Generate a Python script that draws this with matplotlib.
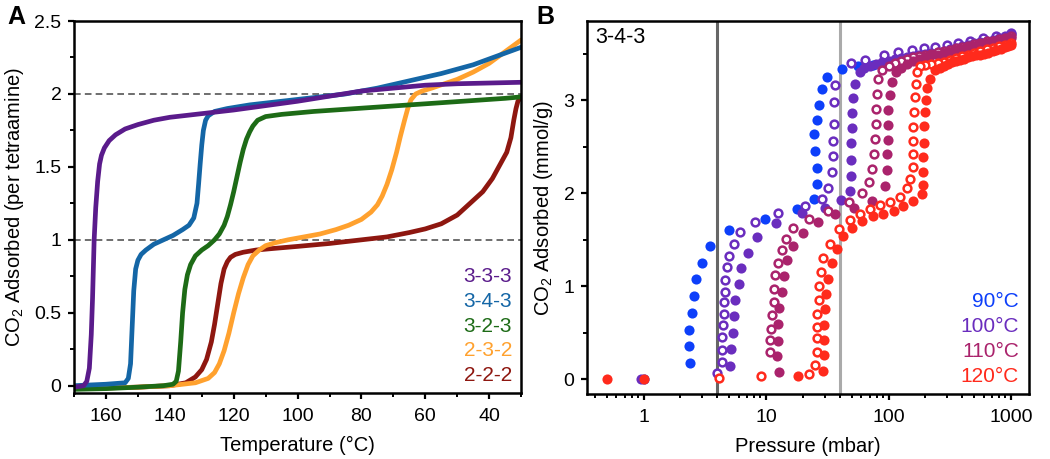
import numpy as np
import matplotlib
matplotlib.use("Agg")
from matplotlib import pyplot as plt
from matplotlib.ticker import MultipleLocator, FuncFormatter, LogLocator, NullFormatter

plt.rcParams['font.family'] = ['Liberation Sans', 'DejaVu Sans']
plt.rcParams['mathtext.default'] = 'regular'

# ---- panel A: isobars (per tetraamine) ----
t_333 = [170, 167, 166, 165.2, 164.6, 164.2, 163.7, 163.2, 162.6, 162.0, 161.4, 160.5, 159, 157, 154, 150,
         145, 140, 130, 120, 110, 100, 90, 80, 70, 60, 50, 40, 30]
q_333 = [-0.01, 0.0, 0.03, 0.12, 0.35, 0.6, 1.0, 1.22, 1.4, 1.52, 1.58, 1.63, 1.68, 1.72, 1.76, 1.79,
         1.82, 1.84, 1.865, 1.89, 1.92, 1.95, 1.985, 2.02, 2.04, 2.06, 2.07, 2.075, 2.08]

t_343 = [170, 160, 154, 153, 152.3, 151.8, 151.3, 150.7, 150, 149, 147.5, 145, 142, 139, 136, 134, 132.5,
         131.5, 131, 130.5, 130, 129.5, 128.8, 128, 126, 122, 115, 105, 95, 85, 75, 65, 55, 45, 35, 30]
q_343 = [0.0, 0.01, 0.02, 0.05, 0.15, 0.4, 0.65, 0.8, 0.86, 0.9, 0.93, 0.97, 1.0, 1.03, 1.07, 1.1, 1.15,
         1.25, 1.38, 1.52, 1.65, 1.75, 1.82, 1.85, 1.88, 1.9, 1.925, 1.95, 1.975, 2.0, 2.04, 2.09, 2.14,
         2.2, 2.28, 2.32]

t_323 = [170, 160, 150, 142, 139, 138, 137.3, 136.6, 136, 135.3, 134.5, 133.5, 132, 130, 128, 126, 124.5,
         123, 122, 121, 120, 119, 118, 117, 116, 115, 114, 112.5, 110, 105, 95, 85, 75, 65, 55, 45, 35, 30]
q_323 = [-0.025, -0.02, -0.01, 0.0, 0.01, 0.03, 0.1, 0.3, 0.5, 0.66, 0.76, 0.83, 0.89, 0.93, 0.96, 1.0,
         1.04, 1.1, 1.16, 1.24, 1.33, 1.43, 1.53, 1.62, 1.69, 1.74, 1.78, 1.82, 1.845, 1.86, 1.88, 1.895,
         1.91, 1.925, 1.94, 1.955, 1.97, 1.98]

t_232 = [170, 150, 140, 132, 128, 126, 124.5, 123, 121.5, 120, 118.5, 117, 115.5, 114, 112, 110, 107, 103,
         98, 93, 88, 84, 80, 77, 75, 73.5, 72, 70.5, 69, 67.8, 66.5, 65.5, 64.5, 63, 61, 58, 54, 50, 45,
         40, 35, 30]
q_232 = [-0.02, -0.01, 0.0, 0.02, 0.05, 0.09, 0.15, 0.24, 0.36, 0.5, 0.63, 0.74, 0.83, 0.89, 0.93, 0.96,
         0.98, 1.0, 1.02, 1.04, 1.07, 1.1, 1.14, 1.19, 1.24, 1.3, 1.38, 1.48, 1.6, 1.71, 1.82, 1.9, 1.96,
         2.0, 2.02, 2.04, 2.07, 2.1, 2.15, 2.21, 2.29, 2.37]

t_222 = [170, 150, 140, 135, 132, 130, 128.5, 127, 126, 125, 124, 123, 122, 121, 119.5, 117, 113, 108,
         100, 90, 80, 72, 65, 60, 55, 50, 45, 42, 39, 36.5, 34.5, 33.2, 32.3, 31.6, 31, 30]
q_222 = [-0.02, -0.01, 0.0, 0.02, 0.06, 0.11, 0.18, 0.3, 0.42, 0.56, 0.7, 0.8, 0.85, 0.88, 0.9, 0.915,
         0.93, 0.94, 0.955, 0.975, 1.0, 1.02, 1.05, 1.075, 1.11, 1.17, 1.27, 1.33, 1.42, 1.52, 1.6, 1.7,
         1.82, 1.9, 1.95, 1.98]

names_a = ['3-3-3', '3-4-3', '3-2-3', '2-3-2', '2-2-2']
colors_a = ['#5a1b8b', '#1466a6', '#1d6b16', '#ffa12e', '#8e1710']

# ---- panel B: 3-4-3 isotherms, filled = adsorption, open = desorption ----
p90_ads = [1.0, 2.4, 2.37, 2.37, 2.48, 2.56, 2.69, 2.99, 3.5, 4.94, 9.86, 17.8, 24.4, 25.9, 25.9, 25.2,
           24.6, 25.9, 27.1, 28.5, 31.7, 41.6, 56.7, 75, 95, 118]
q90_ads = [0.0, 0.175, 0.354, 0.533, 0.716, 0.898, 1.077, 1.249, 1.43, 1.60, 1.72, 1.83, 1.94, 2.10, 2.27,
           2.45, 2.63, 2.79, 2.95, 3.12, 3.25, 3.33, 3.37, 3.38, 3.39, 3.40]

p100_ads = [0.95, 5.1, 5.2, 5.35, 5.52, 5.6, 5.96, 6.22, 7.18, 8.4, 12.1, 19.6, 30.3, 40.7, 48.6, 49.2,
            49.5, 49.5, 50.1, 50.1, 51.2, 53.3, 58.5, 63, 71, 79, 89, 100, 112, 126, 141, 158, 178, 200,
            224, 251, 282, 316, 355, 398, 447, 501, 562, 631, 708, 794, 891, 1000]
q100_ads = [0.0, 0.143, 0.32, 0.497, 0.676, 0.855, 1.02, 1.20, 1.36, 1.53, 1.68, 1.785, 1.84, 1.93, 2.02,
            2.18, 2.36, 2.54, 2.70, 2.86, 3.02, 3.17, 3.30, 3.35, 3.37, 3.39, 3.41, 3.42, 3.44, 3.45, 3.46,
            3.47, 3.49, 3.50, 3.51, 3.52, 3.53, 3.55, 3.56, 3.58, 3.59, 3.61, 3.62, 3.64, 3.65, 3.67, 3.69,
            3.71]
p100_des = [1000, 760, 590, 460, 370, 300, 240, 193, 154, 120, 90.9, 64.3, 49.5, 36.6, 35.9, 35.9, 35.5,
            35.5, 34.4, 32.2, 28.5, 20.8, 12.6, 8.05, 6.15, 5.43, 5.0, 4.78, 4.64, 4.64, 4.55, 4.5, 4.44,
            4.4, 4.4, 4.36, 4.0]
q100_des = [3.72, 3.69, 3.665, 3.64, 3.615, 3.59, 3.575, 3.56, 3.535, 3.515, 3.49, 3.43, 3.40, 3.16, 2.98,
            2.74, 2.565, 2.40, 2.23, 2.06, 1.94, 1.86, 1.785, 1.69, 1.58, 1.456, 1.32, 1.206, 1.07, 0.94,
            0.83, 0.705, 0.58, 0.45, 0.31, 0.186, 0.07]

p110_ads = [12.8, 12.2, 12.4, 12.6, 12.8, 13.4, 13.9, 14.8, 16.5, 20.2, 26.7, 36.6, 51.8, 73, 93.8, 96.7,
            96.7, 99.8, 99.8, 99.8, 101.8, 106.6, 116, 126, 141, 158, 178, 200, 224, 251, 282, 316, 355,
            398, 447, 501, 562, 631, 708, 794, 891, 1000]
q110_ads = [0.075, 0.247, 0.41, 0.59, 0.76, 0.94, 1.105, 1.277, 1.43, 1.57, 1.69, 1.78, 1.84, 1.92, 2.075,
            2.25, 2.415, 2.57, 2.73, 2.895, 3.05, 3.19, 3.30, 3.35, 3.39, 3.42, 3.44, 3.46, 3.48, 3.49,
            3.51, 3.52, 3.54, 3.55, 3.57, 3.58, 3.60, 3.61, 3.63, 3.64, 3.66, 3.67]
p110_des = [1000, 891, 794, 708, 631, 562, 501, 447, 398, 355, 316, 282, 251, 224, 200, 178, 158, 141,
            126, 112, 100, 87.9, 82.7, 80, 79.1, 79.1, 77.8, 76.2, 73, 68.6, 60.4, 47.1, 32.2, 22.2, 16.7,
            14.6, 13.4, 12.4, 11.9, 11.7, 11.5, 11.1, 10.9, 10.8, 10.7]
q110_des = [3.69, 3.67, 3.66, 3.64, 3.63, 3.61, 3.60, 3.58, 3.57, 3.56, 3.54, 3.53, 3.52, 3.50, 3.49, 3.47,
            3.46, 3.44, 3.42, 3.40, 3.37, 3.32, 3.23, 3.07, 2.905, 2.74, 2.58, 2.42, 2.26, 2.12, 2.0, 1.90,
            1.81, 1.72, 1.62, 1.51, 1.385, 1.25, 1.12, 0.97, 0.83, 0.69, 0.54, 0.42, 0.29]

p120_ads = [0.5, 1.0, 18.3, 29.4, 29.8, 29.8, 29.8, 30.3, 30.9, 32.2, 34.4, 37.8, 42.8, 50, 60.4, 74.7,
            90.6, 110, 132, 159, 186, 192, 192, 192, 194, 194, 198, 202, 207, 218, 240, 262, 282, 305, 330,
            355, 385, 415, 447, 480, 520, 562, 605, 650, 708, 760, 820, 891, 950, 1000]
q120_ads = [0.0, 0.0, 0.03, 0.086, 0.26, 0.42, 0.58, 0.75, 0.92, 1.08, 1.25, 1.40, 1.535, 1.62, 1.70, 1.75,
            1.78, 1.81, 1.86, 1.92, 1.99, 2.09, 2.23, 2.39, 2.54, 2.72, 2.87, 3.0, 3.13, 3.23, 3.32, 3.35,
            3.37, 3.39, 3.41, 3.42, 3.43, 3.44, 3.46, 3.47, 3.48, 3.49, 3.50, 3.51, 3.53, 3.54, 3.55, 3.57,
            3.58, 3.59]
p120_des = [1000, 891, 794, 708, 631, 562, 501, 447, 398, 355, 316, 282, 251, 224, 200, 181, 170, 167,
            164, 161, 159, 159, 159, 157, 150, 141, 124, 103, 85, 70, 58, 48.6, 39.7, 33.3, 29.4, 28, 27.1,
            26.8, 26.2, 26.2, 26, 25.8, 25.2, 22.2, 9.1, 4.1]
q120_des = [3.61, 3.595, 3.58, 3.565, 3.55, 3.53, 3.51, 3.49, 3.47, 3.45, 3.43, 3.41, 3.40, 3.39, 3.38,
            3.37, 3.30, 3.17, 3.03, 2.87, 2.715, 2.565, 2.42, 2.28, 2.15, 2.05, 1.96, 1.90, 1.87, 1.83,
            1.78, 1.706, 1.617, 1.456, 1.30, 1.15, 0.998, 0.855, 0.705, 0.56, 0.44, 0.29, 0.157, 0.05,
            0.03, 0.014]

names_b = ['90°C', '100°C', '110°C', '120°C']
colors_b = ['#0d3ffa', '#6a2dbe', '#aa236c', '#ff2a1c']

fig = plt.figure(figsize=(10.5, 4.59), dpi=100)
ax1 = fig.add_axes([0.0705, 0.1438, 0.4258, 0.8104])
ax2 = fig.add_axes([0.559, 0.1416, 0.421, 0.8126])

for ax in (ax1, ax2):
    for s in ax.spines.values():
        s.set_linewidth(1.8)
    ax.tick_params(which='major', direction='out', length=4, width=1.6, labelsize=14, pad=5)
    ax.tick_params(which='minor', direction='out', length=3, width=1.4)
    ax.tick_params(axis='x', which='major', pad=6.5)

# panel A
ax1.axhline(1, color='#555555', lw=1.2, ls=(0, (4, 2.5)), zorder=1)
ax1.axhline(2, color='#555555', lw=1.2, ls=(0, (4, 2.5)), zorder=1)
curves = [(t_333, q_333), (t_343, q_343), (t_323, q_323), (t_232, q_232), (t_222, q_222)]
for i in [4, 3, 2, 1, 0]:
    t, q = curves[i]
    ax1.plot(t, q, color=colors_a[i], lw=3.4, solid_joinstyle='round', solid_capstyle='round', zorder=2)
ax1.set_xlim(170, 30)
ax1.set_ylim(-0.05, 2.5)
ax1.xaxis.set_major_locator(MultipleLocator(20))
ax1.xaxis.set_minor_locator(MultipleLocator(10))
ax1.yaxis.set_major_locator(MultipleLocator(0.5))
ax1.yaxis.set_minor_locator(MultipleLocator(0.25))
ax1.yaxis.set_major_formatter(FuncFormatter(lambda v, p: '{:g}'.format(v)))
ax1.set_xlabel('Temperature (°C)', fontsize=14.5, labelpad=8)
ax1.set_ylabel('CO$_2$ Adsorbed (per tetraamine)', fontsize=14.5, labelpad=6)
for i, name in enumerate(names_a):
    ax1.text(0.98, 0.3145 - i * 0.0672, name, color=colors_a[i], fontsize=15,
             ha='right', va='center', transform=ax1.transAxes)

# panel B
ax2.axvline(4, color='#666666', lw=2.2, zorder=1)
ax2.axvline(40, color='#aaaaaa', lw=2.2, zorder=1)
series = [(p90_ads, q90_ads, None, None),
          (p100_ads, q100_ads, p100_des, q100_des),
          (p110_ads, q110_ads, p110_des, q110_des),
          (p120_ads, q120_ads, p120_des, q120_des)]
for i, (pa, qa, pd, qd) in enumerate(series):
    c = colors_b[i]
    if pd is not None:
        ax2.plot(pd, qd, 'o', ls='none', ms=5.6, mfc='white', mec=c, mew=1.8, zorder=3 + i)
    ax2.plot(pa, qa, 'o', ls='none', ms=7.3, mfc=c, mec=c, mew=0, zorder=3 + i)
ax2.set_xscale('log')
ax2.set_xlim(0.345, 1400)
ax2.set_ylim(-0.16, 3.85)
ax2.xaxis.set_major_locator(LogLocator(base=10))
ax2.xaxis.set_minor_locator(LogLocator(base=10, subs=np.arange(2, 10)))
ax2.xaxis.set_minor_formatter(NullFormatter())
ax2.xaxis.set_major_formatter(FuncFormatter(lambda v, p: '{:g}'.format(v)))
ax2.yaxis.set_major_locator(MultipleLocator(1))
ax2.yaxis.set_minor_locator(MultipleLocator(0.5))
ax2.set_xlabel('Pressure (mbar)', fontsize=14.5, labelpad=8)
ax2.set_ylabel('CO$_2$ Adsorbed (mmol/g)', fontsize=14.5, labelpad=6)
ax2.text(0.018, 0.957, '3-4-3', fontsize=15.5, ha='left', va='center', transform=ax2.transAxes)
for i, name in enumerate(names_b):
    ax2.text(0.977, 0.247 - i * 0.067, name, color=colors_b[i], fontsize=15,
             ha='right', va='center', transform=ax2.transAxes)

fig.text(0.0075, 0.964, 'A', fontsize=18, fontweight='bold', ha='left', va='center')
fig.text(0.511, 0.964, 'B', fontsize=18, fontweight='bold', ha='left', va='center')

fig.savefig('out.png', dpi=100)
